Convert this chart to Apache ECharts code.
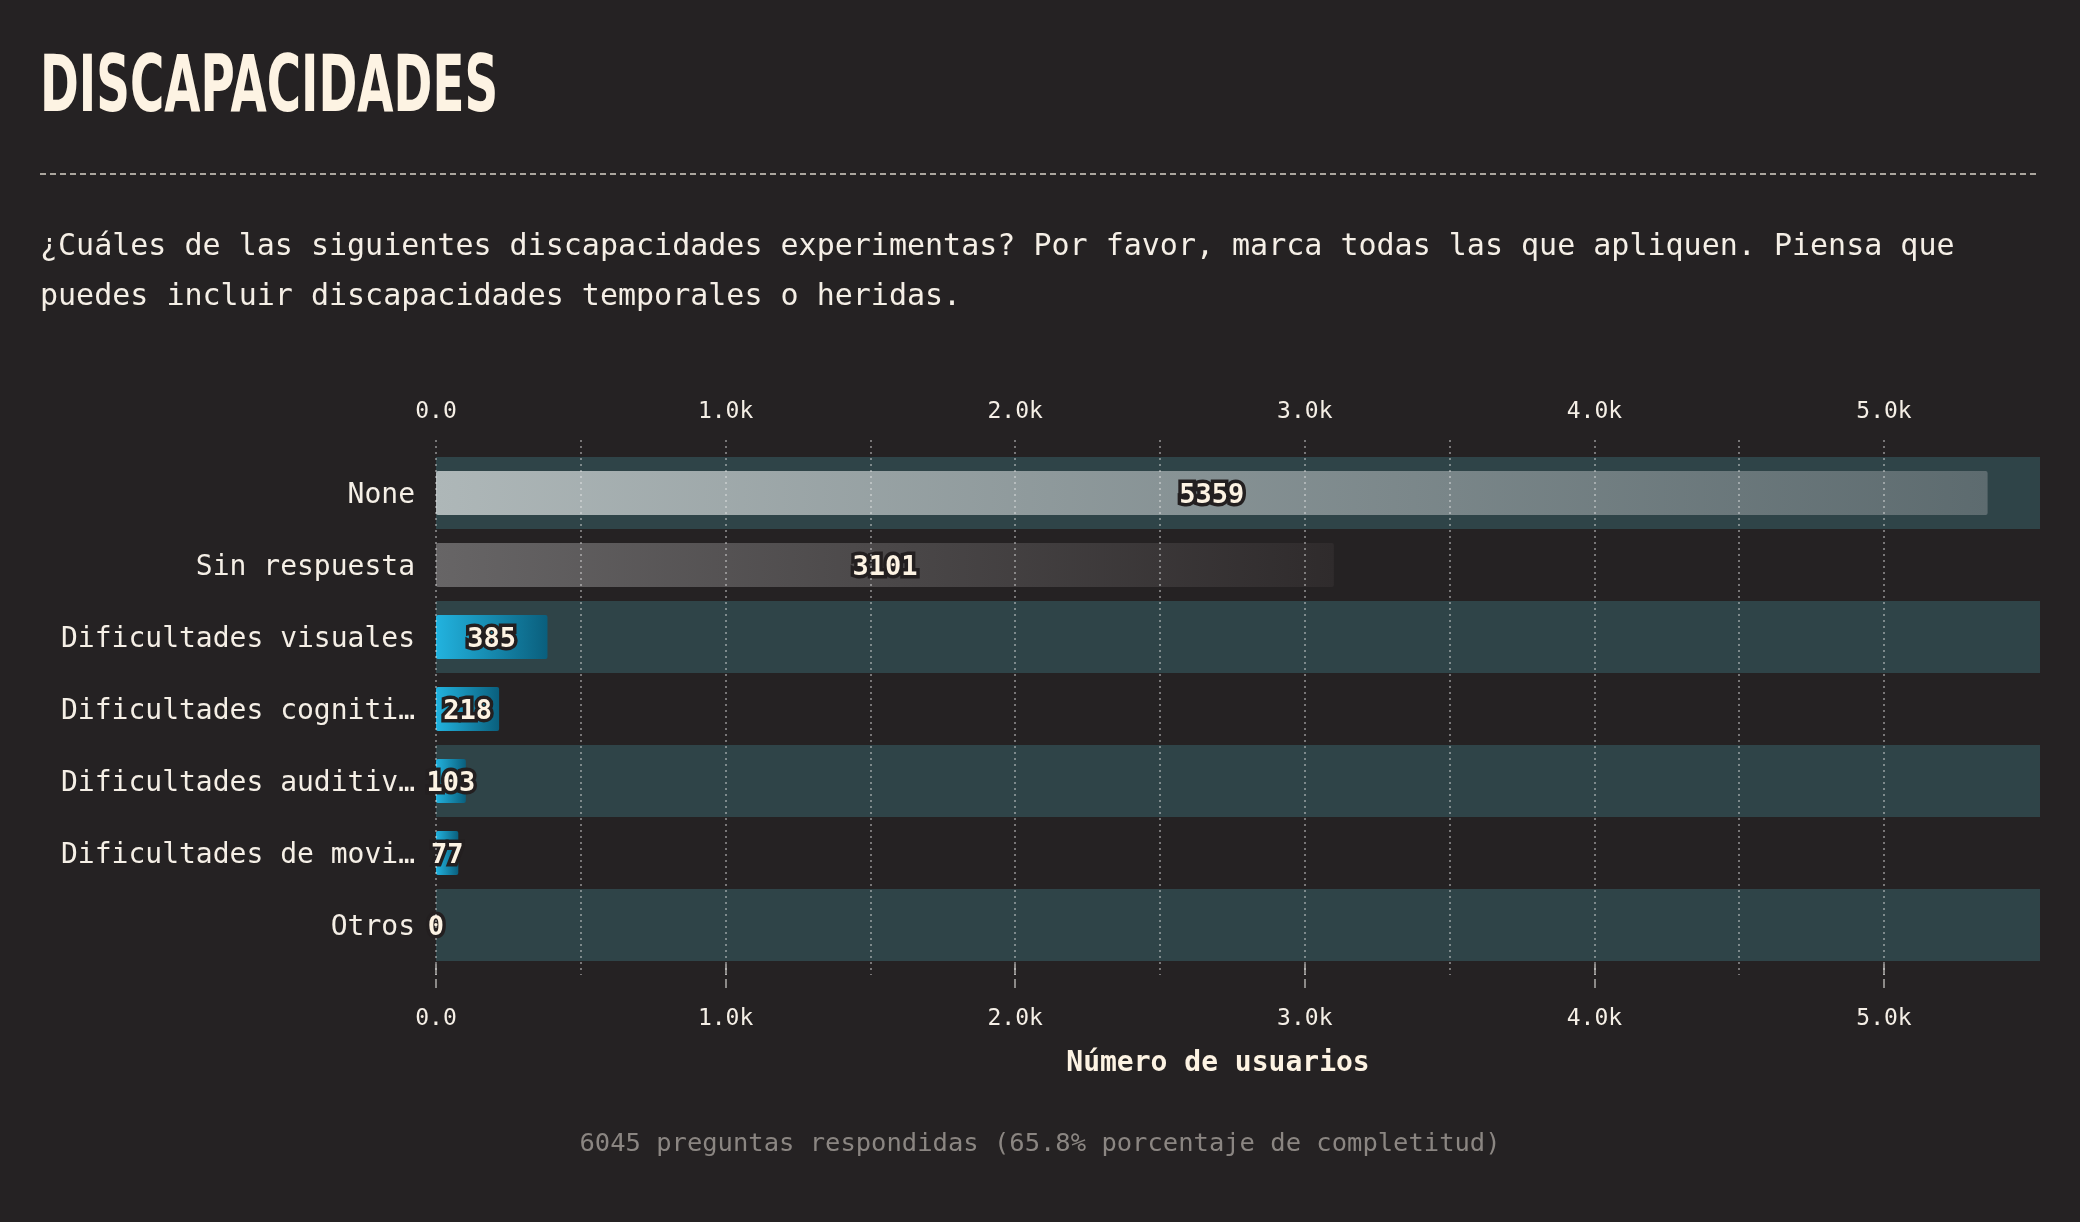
<!DOCTYPE html>
<html>
<head>
<meta charset="utf-8">
<script src="https://cdn.jsdelivr.net/npm/echarts@6/dist/echarts.min.js"></script>
<style>
html,body{margin:0;padding:0;background:#252223;}
#chart{width:2080px;height:1222px;}
</style>
</head>
<body>
<div id="chart"></div>
<script>
const titleText = 'DISCAPACIDADES';
const subtitleText = '¿Cuáles de las siguientes discapacidades experimentas? Por favor, marca todas las que apliquen. Piensa que\npuedes incluir discapacidades temporales o heridas.';
const axisTitle = 'Número de usuarios';
const footerText = '6045 preguntas respondidas (65.8% porcentaje de completitud)';

const categories = ['None', 'Sin respuesta', 'Dificultades visuales', 'Dificultades cognitivas', 'Dificultades auditivas', 'Dificultades de movilidad', 'Otros'];
const values = [5359, 3101, 385, 218, 103, 77, 0];

const tickMax = 5000;
const scaleMax = 5540;

const MONO = '"DejaVu Sans Mono", "Liberation Mono", monospace';
const CREAM = '#f5efe6';

function fmt(v) {
  if (v === 0) return '0.0';
  return (v / 1000).toFixed(1) + 'k';
}

function barColor(i) {
  let c0, c1;
  if (i === 0) { c0 = '#aeb7b8'; c1 = '#5d6b6f'; }
  else if (i === 1) { c0 = '#676566'; c1 = '#2f2b2c'; }
  else { c0 = '#22b3df'; c1 = '#0a5f7d'; }
  return new echarts.graphic.LinearGradient(0, 0, 1, 0, [
    { offset: 0, color: c0 }, { offset: 1, color: c1 }
  ]);
}

const chart = echarts.init(document.getElementById('chart'), null, { renderer: 'canvas' });

const option = {
  backgroundColor: '#252223',
  animation: false,
  grid: [
    { left: 436, right: 196, top: 440, bottom: 247 },
    { left: 436, right: 196, top: 440, bottom: 247 },
    { left: 436, right: 40, top: 457, bottom: 261 }
  ],
  xAxis: [
    {
      gridIndex: 0, type: 'value', position: 'top', min: 0, max: tickMax, interval: 500, z: 10,
      axisLine: { show: false }, axisTick: { show: false }, axisLabel: { show: false },
      splitLine: { show: true, lineStyle: { color: 'rgba(235,235,235,0.42)', width: 2, type: [2, 4] } }
    },
    {
      gridIndex: 0, type: 'value', position: 'bottom', min: 0, max: tickMax, interval: 1000, offset: 4,
      axisLine: { show: false },
      axisTick: { show: true, length: 9, lineStyle: { color: '#8c8a88', width: 2 } },
      axisLabel: { show: true, margin: 29, formatter: fmt, color: CREAM, fontFamily: MONO, fontSize: 23 },
      splitLine: { show: false }
    },
    {
      gridIndex: 1, type: 'value', position: 'top', min: 0, max: tickMax, interval: 1000,
      axisLine: { show: false },
      axisTick: { show: true, length: 11, lineStyle: { color: '#8c8a88', width: 2 } },
      axisLabel: { show: true, margin: 16, formatter: fmt, color: CREAM, fontFamily: MONO, fontSize: 23 },
      splitLine: { show: false }
    },
    {
      gridIndex: 2, type: 'value', min: 0, max: scaleMax, show: false
    }
  ],
  yAxis: [
    { gridIndex: 0, type: 'value', min: 0, max: 1, show: false },
    { gridIndex: 1, type: 'value', min: 0, max: 1, show: false },
    {
      gridIndex: 2, type: 'category', inverse: true, data: categories,
      axisLine: { show: false }, axisTick: { show: false },
      axisLabel: {
        color: CREAM, fontFamily: MONO, fontSize: 28, margin: 21,
        width: 366, overflow: 'truncate', ellipsis: '…',
        formatter: v => '{a|' + v + '}',
        rich: { a: { color: CREAM, fontFamily: MONO, fontSize: 28, padding: [6, 0, 0, 0] } }
      },
      splitArea: { show: true, areaStyle: { color: ['#2f4448', 'rgba(0,0,0,0)'] } },
      splitLine: { show: false }
    }
  ],
  series: [
    {
      type: 'bar', xAxisIndex: 3, yAxisIndex: 2, barWidth: 44, z: 2,
      data: values.map((v, i) => ({ value: v, itemStyle: { color: barColor(i), borderRadius: 2 } })),
      label: {
        show: true, position: 'inside', formatter: '{c}', offset: [0, 3],
        color: '#fdf3e3', fontFamily: MONO, fontWeight: 'bold', fontSize: 27,
        textBorderColor: '#231f20', textBorderWidth: 7
      }
    }
  ],
  graphic: [
    {
      type: 'text', x: 40, y: 91, scaleX: 0.6, z: 100,
      style: { text: titleText, fill: '#fdf3e3', fontFamily: '"DejaVu Sans"', fontWeight: 'bold', fontSize: 78, verticalAlign: 'middle', align: 'left' }
    },
    {
      type: 'line', z: 100,
      shape: { x1: 40, y1: 174, x2: 2040, y2: 174 },
      style: { stroke: '#d8d2c8', lineWidth: 1.5, lineDash: [6, 4] }
    },
    {
      type: 'text', x: 40, y: 222, z: 100,
      style: { text: subtitleText, fill: CREAM, fontFamily: MONO, fontSize: 30, lineHeight: 50, verticalAlign: 'top', align: 'left' }
    },
    {
      type: 'text', x: 1218, y: 1064, z: 100,
      style: { text: axisTitle, fill: '#fdf3e3', fontFamily: MONO, fontWeight: 'bold', fontSize: 28, verticalAlign: 'middle', align: 'center' }
    },
    {
      type: 'text', x: 1040, y: 1144, z: 100,
      style: { text: footerText, fill: '#8b8682', fontFamily: MONO, fontSize: 25.5, verticalAlign: 'middle', align: 'center' }
    }
  ]
};

chart.setOption(option);
</script>
</body>
</html>
